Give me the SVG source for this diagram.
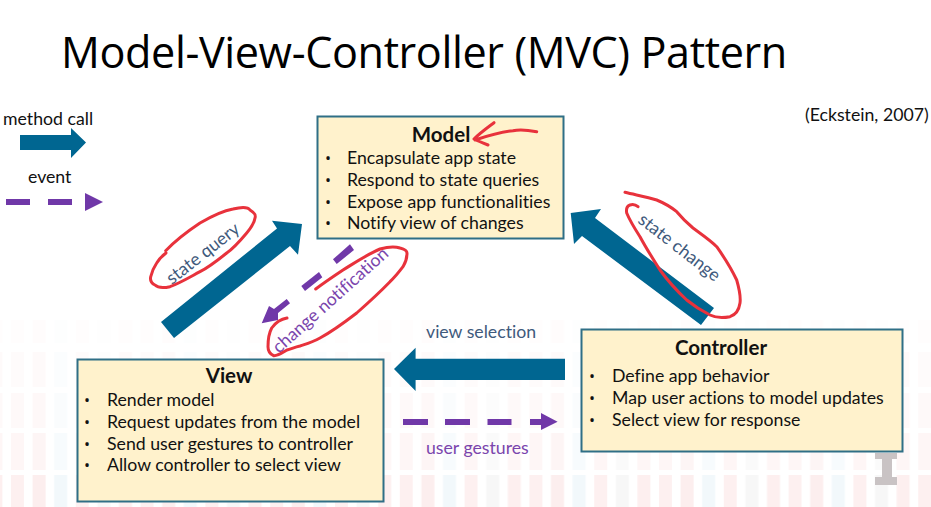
<svg xmlns="http://www.w3.org/2000/svg" width="931" height="507" viewBox="0 0 931 507">
  <style>
    text { font-family: "Lato", "Open Sans", "Liberation Sans", sans-serif; fill: #111; font-size: 17.700px; font-variant-ligatures: none; }
    .title { font-family: "Open Sans", "Lato", sans-serif; font-size: 43.200px; font-weight: 400; fill: #000; letter-spacing: -0.4px; }
    .head { font-size: 20.500px; font-weight: 700; text-anchor: middle; }
    .dot { font-family: "Open Sans", sans-serif; font-size: 16px; }
    .blue { fill: #3f5a7c; }
    .purple { fill: #7a45ad; }
    .box { fill: #fff2cc; stroke: #2f6f86; stroke-width: 2; }
    .call { fill: #006691; }
    .event { fill: #7038a8; }
    .ink { fill: none; stroke: #e8323c; stroke-width: 3; stroke-linecap: round; stroke-linejoin: round; }
  </style>
  <defs>
    <pattern id="bars" width="129.6" height="200" patternUnits="userSpaceOnUse" x="11" y="0">
      <rect x="0" y="0" width="13" height="200" fill="#f6b5b5"/>
      <rect x="21.6" y="0" width="13" height="200" fill="#f2a8a8"/>
      <rect x="43.2" y="0" width="13" height="200" fill="#bcdcec"/>
      <rect x="64.8" y="0" width="13" height="200" fill="#f6b5b5"/>
      <rect x="86.4" y="0" width="13" height="200" fill="#d8d8d8"/>
      <rect x="108" y="0" width="13" height="200" fill="#f4b0b0"/>
    </pattern>
  </defs>

  <rect width="931" height="507" fill="#fff"/>

  <!-- pale bar chart behind the slide -->
  <g id="backdrop" fill="url(#bars)">
    <rect x="0" y="320" width="931" height="23" opacity="0.03"/>
    <rect x="0" y="352" width="931" height="35" opacity="0.06"/>
    <rect x="0" y="393" width="931" height="35" opacity="0.08"/>
    <rect x="0" y="433" width="931" height="37" opacity="0.12"/>
    <rect x="0" y="475" width="931" height="32" opacity="0.2"/>
  </g>
  <g id="logo" fill="#c9c3c4">
    <rect x="875" y="453" width="22" height="6"/>
    <rect x="882" y="459" width="10" height="19"/>
    <rect x="875" y="477" width="22" height="8"/>
  </g>

  <text class="title" x="61" y="68">Model-View-Controller (MVC) Pattern</text>
  <text x="805" y="121" font-size="18">(Eckstein, 2007)</text>

  <!-- legend -->
  <g id="legend">
    <text x="3" y="125">method call</text>
    <polygon class="call" points="20,135 71,135 71,128 86,142.5 71,158 71,150 20,150"/>
    <text x="28" y="183">event</text>
    <rect class="event" x="6" y="199" width="24" height="6"/>
    <rect class="event" x="48" y="199" width="24" height="6"/>
    <polygon class="event" points="85,193 103,202 85,211"/>
  </g>

  <g id="model">
    <rect class="box" x="317.500" y="116.500" width="246" height="122"/>
    <text class="head" x="441" y="142">Model</text>
    <text class="dot" x="325" y="164">•</text><text x="347" y="164">Encapsulate app state</text>
    <text class="dot" x="325" y="186">•</text><text x="347" y="186">Respond to state queries</text>
    <text class="dot" x="325" y="208">•</text><text x="347" y="208">Expose app functionalities</text>
    <text class="dot" x="325" y="229">•</text><text x="347" y="229">Notify view of changes</text>
  </g>

  <g id="view">
    <rect class="box" x="77.500" y="359.500" width="306" height="142"/>
    <text class="head" x="229" y="383">View</text>
    <text class="dot" x="84" y="406">•</text><text x="107" y="406">Render model</text>
    <text class="dot" x="84" y="428">•</text><text x="107" y="428">Request updates from the model</text>
    <text class="dot" x="84" y="450">•</text><text x="107" y="450">Send user gestures to controller</text>
    <text class="dot" x="84" y="471">•</text><text x="107" y="471">Allow controller to select view</text>
  </g>

  <g id="controller">
    <rect class="box" x="581.500" y="329.500" width="321" height="122"/>
    <text class="head" x="721" y="355">Controller</text>
    <text class="dot" x="589" y="382">•</text><text x="612" y="382">Define app behavior</text>
    <text class="dot" x="589" y="404">•</text><text x="612" y="404">Map user actions to model updates</text>
    <text class="dot" x="589" y="426">•</text><text x="612" y="426">Select view for response</text>
  </g>

  <g id="connectors">
    <polygon class="call" points="161,322 277,228.500 272,220.700 302,224 298,254.700 290,246 174,338"/>
    <polygon class="call" points="714,308 595,218 601,209 570.700,213 574,244 582,236 701,325"/>
    <polygon class="call" points="565,358.700 415.600,358.700 415.600,347.700 394,369 415.600,391 415.600,380 565,380"/>

    <polygon class="event" points="350,244.300 354,250 336.700,264 333,259.300"/>
    <polygon class="event" points="319,272 322.300,277.300 305,291 301.300,286"/>
    <polygon class="event" points="286.700,299 290,303.300 278,313 278,320 261.700,323.300 269,306 274,309"/>

    <rect class="event" x="403" y="419" width="25" height="6"/>
    <rect class="event" x="445" y="419" width="25" height="6"/>
    <rect class="event" x="487.500" y="419" width="24" height="6"/>
    <polygon class="event" points="530,419 541,419 541,413 557.600,421.700 541,430 541,425 530,425"/>

    <text class="blue" transform="translate(172 285) rotate(-38)" font-size="18">state query</text>
    <text class="purple" transform="translate(279 354) rotate(-41.800)" font-size="18">change notification</text>
    <text class="blue" transform="translate(637 222) rotate(37.800)" font-size="18">state change</text>
    <text class="blue" x="426" y="338">view selection</text>
    <text class="purple" x="426" y="454">user gestures</text>
  </g>

  <!-- hand-drawn annotations -->
  <g id="annotations">
    <path class="ink" d="M165.700 250.700 C176 240 188 231 200 223 C212 216 222 211 233 209 C241 207 248 207 250 210 C255 213 256 215 255 218 C254 224 251 228 246.700 233 C240 241 234 248 226.700 253 C218 260 209 267 200 271.700 C190 277 180 283 170 286.700 C164 288 158 288 155 285 C151 283 150 280 150.700 276.700 C152 271 154 267 156.700 263 C159 259 162 256 166 253"/>
    <path class="ink" d="M536.700 131.700 C528 130 520 129 513 130.700 C500 132 487 136 475 140 M494 122.700 C487 128 480 133 474 139 C478 141 483 143 488 145"/>
    <path class="ink" d="M315.700 289 C325 282 334 276 343 270 C356 262 368 254 380 249 C387 247 394 246 400 248 C404 249 407 250 407 253 C407 258 406 262 403 266.700 C399 272 395 277 390 281.700 C379 293 368 303 356.700 313 C345 322 333 331 320 338 C313 342 306 344 300 346 C295 347 291 349 287 350 C282 353 278 356 273.600 355.700 C270 354 268 351 268 346.700 C268 340 269 333 271.700 328 C276 322 281 319 287 318"/>
    <path class="ink" d="M625 192.300 C636 195 647 197 656.700 200 C664 203 671 207 676.700 211.700 C682 218 687 223 693 228 C701 234 710 240 716.700 246.700 C724 257 731 268 736.700 280 C739 288 741 296 740 303 C739 310 735 315 730 316.700 C723 318 716 318 710 315 C702 311 694 306 686.700 300 C677 291 668 281 660 270 C653 259 646 248 640 236.700 C635 229 630 221 626.700 213 C626 209 627 206 630 205 C633 204 636 205 638 206.700"/>
  </g>
</svg>
